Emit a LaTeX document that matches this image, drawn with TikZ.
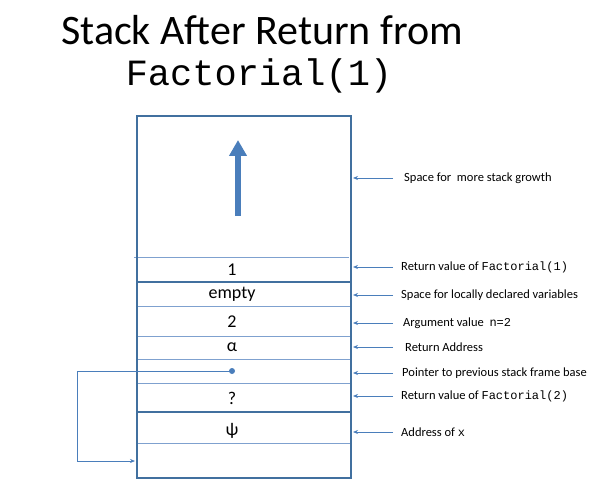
\documentclass[tikz,border=0pt]{standalone}
\usepackage{fontspec}
\setmainfont{Carlito}
\setmonofont{Liberation Mono}
\usetikzlibrary{arrows.meta}
\definecolor{frame}{HTML}{41709F}
\definecolor{inner}{HTML}{7FA1CF}
\definecolor{arr}{HTML}{4A7EBB}
\begin{document}
\begin{tikzpicture}[x=1pt,y=-1pt,
  lab/.style={anchor=west,inner sep=0pt,font=\fontsize{12.5}{14}\selectfont},
  cell/.style={inner sep=0pt,font=\fontsize{18}{20}\selectfont},
  ptr/.style={draw=arr,line width=0.7pt,-{Stealth[length=5pt,width=4pt]}},
  thin/.style={draw=inner,line width=1pt},
  thick/.style={draw=frame,line width=2.2pt}]
\useasboundingbox (0,0) rectangle (610,486);
% title
\node[font=\fontsize{42}{46}\selectfont] (t1) at (262,30) {Stack After Return from};
\node[font=\ttfamily\fontsize{37}{40}\selectfont] (t2) at (259,76) {Factorial(1)};
% separators
\draw[thin] (134,258) -- (349,258);
\draw[thick] (137,282) -- (351,282);
\draw[thin] (137,306) -- (351,306);
\draw[thin] (137,336) -- (351,336);
\draw[thin] (137,359) -- (351,359);
\draw[thin] (137,383) -- (351,383);
\draw[thick] (137,412) -- (351,412);
\draw[thin] (137,443) -- (351,443);
% frame
\draw[draw=frame,line width=1.8pt] (137,116) rectangle (351,478);
% growth arrow
\draw[draw=arr,line width=6pt,-{Triangle[length=16pt,width=17pt]}] (238,216) -- (238,140);
% cells
\node[cell] (c1) at (232,270) {1};
\node[cell] (c2) at (232,294) {empty};
\node[cell] (c3) at (232,322) {2};
\node[cell] (c4) at (232,347) {α};
\node[circle,fill=arr,inner sep=0pt,minimum size=6pt] (dot) at (232,371) {};
\node[cell] (c6) at (232,398) {?};
\node[cell] (c7) at (232,431) {ψ};
% pointer
\coordinate (pb) at (135,461);
\draw[ptr] (dot.center) -- (77,371) |- (pb);
% labels
\node[lab] (l1) at (404,178) {Space for\ \ more stack growth};
\node[lab] (l2) at (401,267) {Return value of \texttt{\fontsize{12}{14}\selectfont Factorial(1)}};
\node[lab] (l3) at (401,295) {Space for locally declared variables};
\node[lab] (l4) at (403,323) {Argument value\ \ \texttt{\fontsize{12}{14}\selectfont n=2}};
\node[lab] (l5) at (405,347) {Return Address};
\node[lab] (l6) at (402,373) {Pointer to previous stack frame base};
\node[lab] (l7) at (401,396) {Return value of \texttt{\fontsize{12}{14}\selectfont Factorial(2)}};
\node[lab] (l8) at (401,432) {Address of \texttt{\fontsize{12}{14}\selectfont x}};
\foreach \i/\y in {1/178,2/267,3/295,4/323,5/347,6/373,7/396,8/432}{
  \coordinate (r\i) at (353,\y);
  \draw[ptr] (393,\y) -- (r\i);
}
\end{tikzpicture}
\end{document}
